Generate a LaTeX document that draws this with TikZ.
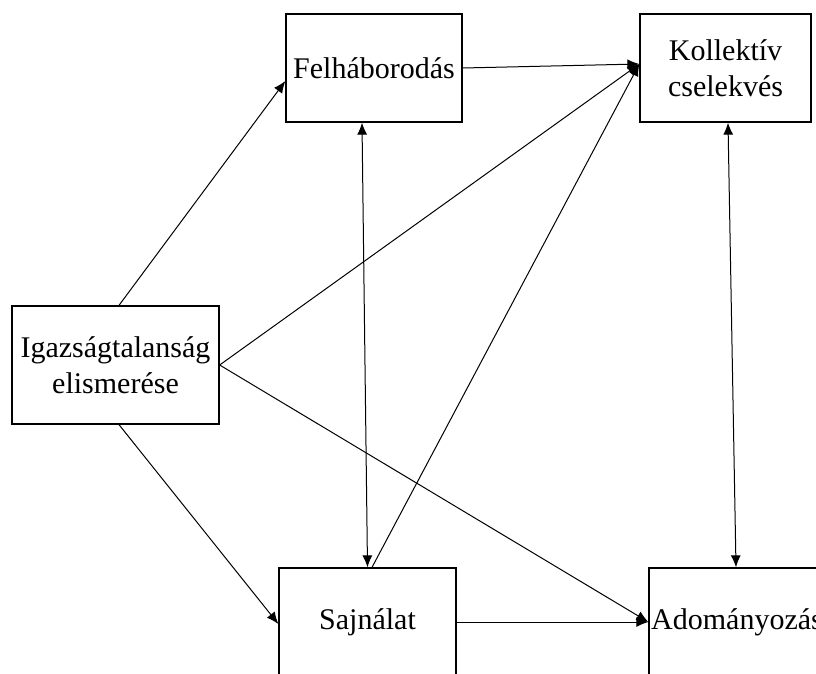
\documentclass[tikz,border=0pt]{standalone}
\usepackage{fontspec}
\setmainfont{Liberation Serif}
\usetikzlibrary{arrows.meta}

\tikzset{
  box/.style={draw, line width=1.3pt, rectangle, inner sep=2pt, align=center,
    font=\fontsize{30}{36}\selectfont},
  link/.style={line width=1pt, -{Latex[length=12pt,width=10pt]}},
  both/.style={line width=1pt, {Latex[length=12pt,width=10pt]}-{Latex[length=12pt,width=10pt]}}
}

\begin{document}
\begin{tikzpicture}[x=1pt,y=1pt,yscale=-1,xscale=1]
\useasboundingbox (0,0) rectangle (816,673);
\clip (0,0) rectangle (816,673);

%Shape: Rectangle [igaz]
\node [box, minimum width=207, minimum height=118] (igaz) at (115.5,365) {Igazságtalanság\\elismerése};
%Shape: Rectangle [felh]
\node [box, minimum width=176, minimum height=108] (felh) at (374,68) {Felháborodás};
%Shape: Rectangle [koll]
\node [box, minimum width=171, minimum height=108] (koll) at (725.5,68) {Kollektív\\cselekvés};
%Shape: Rectangle [sajn]
\node [box, minimum width=177, minimum height=108] (sajn) at (367.5,622) {Sajnálat};
%Shape: Rectangle [adom]
\node [box, minimum width=176, minimum height=108] (adom) at (737,622) {Adományozás};

% arrow end on Kollektív
\coordinate (kin) at ([yshift=-4pt]koll.west);

%Straight Lines
\draw [link] ([xshift=3.5pt]igaz.north) -- ([yshift=13pt]felh.west);
%Straight Lines
\draw [link] (felh.east) -- (kin);
%Straight Lines
\draw [link] (igaz.east) -- (kin);
%Straight Lines
\draw [link] ([xshift=3.5pt]igaz.south) -- ([yshift=2pt]sajn.west);
%Straight Lines
\draw [link] (igaz.east) -- (adom.west);
%Straight Lines
\draw [link] (sajn.east) -- (adom.west);
%Straight Lines
\draw [link] ([xshift=4.5pt]sajn.north) -- (kin);
%Straight Lines
\draw [both] ([xshift=-12pt]felh.south) -- (sajn.north);
%Straight Lines
\draw [both] ([xshift=2.5pt]koll.south) -- ([xshift=-1pt]adom.north);

\end{tikzpicture}
\end{document}
